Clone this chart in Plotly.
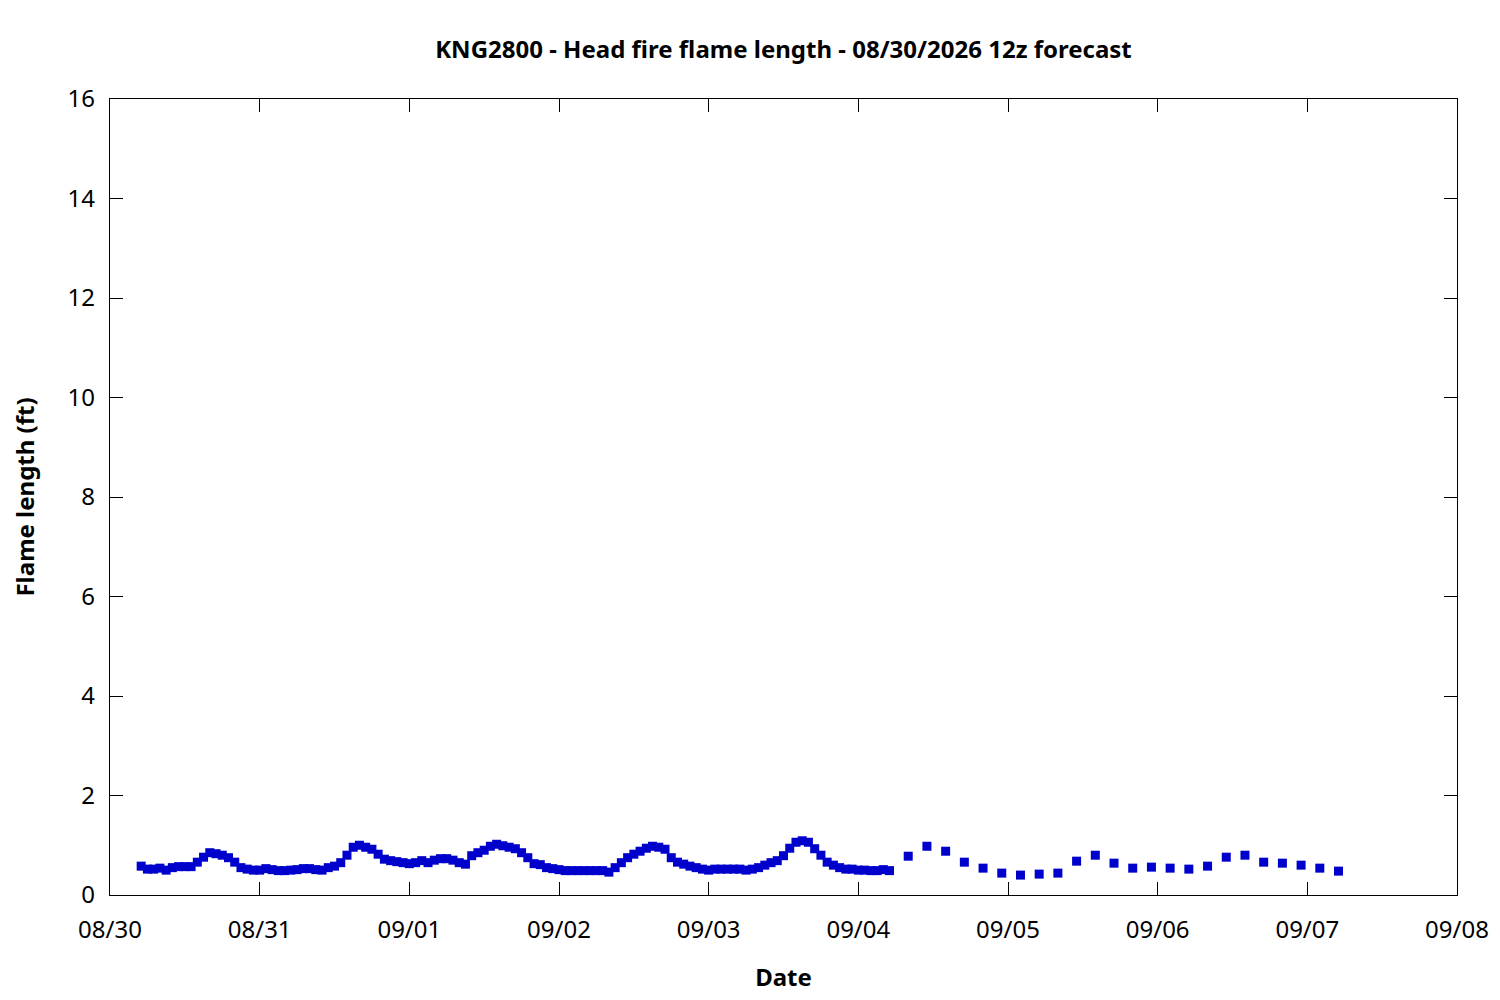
import pandas as pd
import plotly.graph_objects as go

# hourly forecast, 08/30 05:00 through 09/04 05:00
hourly_start = "2026-08-30 05:00"
hourly_ft = [
    0.58, 0.52, 0.52, 0.54, 0.50, 0.55, 0.57, 0.57, 0.57, 0.66,
    0.76, 0.85, 0.83, 0.80, 0.75, 0.66, 0.55, 0.52, 0.50, 0.50,
    0.53, 0.51, 0.49, 0.49, 0.50, 0.51, 0.53, 0.53, 0.51, 0.50,
    0.55, 0.58, 0.65, 0.80, 0.96, 1.00, 0.96, 0.92, 0.82, 0.72,
    0.69, 0.67, 0.65, 0.63, 0.65, 0.69, 0.65, 0.70, 0.73, 0.73,
    0.70, 0.65, 0.62, 0.79, 0.85, 0.90, 0.98, 1.02, 0.99, 0.96,
    0.93, 0.85, 0.75, 0.63, 0.61, 0.55, 0.53, 0.51, 0.49, 0.49,
    0.49, 0.49, 0.49, 0.49, 0.49, 0.46, 0.55, 0.65, 0.75, 0.82,
    0.88, 0.94, 0.98, 0.96, 0.92, 0.75, 0.66, 0.62, 0.58, 0.55,
    0.52, 0.50, 0.52, 0.52, 0.52, 0.52, 0.52, 0.50, 0.52, 0.55,
    0.60, 0.65, 0.69, 0.79, 0.94, 1.06, 1.09, 1.06, 0.93, 0.80,
    0.66, 0.60, 0.55, 0.52, 0.52, 0.50, 0.50, 0.49, 0.49, 0.51,
    0.49,
]

# 3-hourly forecast, 09/04 08:00 through 09/07 05:00
threehr_start = "2026-09-04 08:00"
threehr_ft = [
    0.78, 0.98, 0.88, 0.66, 0.54, 0.44, 0.40, 0.42, 0.44, 0.68,
    0.80, 0.64, 0.54, 0.56, 0.54, 0.52, 0.58, 0.76, 0.80, 0.66,
    0.64, 0.60, 0.54, 0.48,
]

times = list(pd.date_range(hourly_start, periods=len(hourly_ft), freq="1h")) + \
    list(pd.date_range(threehr_start, periods=len(threehr_ft), freq="3h"))
flame = hourly_ft + threehr_ft

FONT = "Noto Sans"
FS = 24

fig = go.Figure()
fig.add_trace(go.Scatter(
    x=times, y=flame,
    mode="markers",
    marker=dict(symbol="square", size=9, color="#0000CC"),
    showlegend=False,
))

axis_common = dict(
    showgrid=False, zeroline=False,
    showline=True, linecolor="black", linewidth=1.3,
    mirror="ticks", ticks="inside", ticklen=13, tickwidth=1, tickcolor="black",
    tickfont=dict(family=FONT, size=FS, color="black"),
)

fig.update_xaxes(
    range=["2026-08-30", "2026-09-08"],
    dtick=86400000, tickformat="%m/%d",
    ticklabelstandoff=13,
    title=dict(text="<b>Date</b>", font=dict(family=FONT, size=FS, color="black"), standoff=25),
    **axis_common,
)
fig.update_yaxes(
    range=[0, 16], dtick=2,
    ticklabelstandoff=9,
    title=dict(text="<b>Flame length (ft)</b>", font=dict(family=FONT, size=FS, color="black"), standoff=32),
    **axis_common,
)

fig.update_layout(
    width=1500, height=1000,
    margin=dict(l=102, r=51, t=91, b=113, autoexpand=False),
    paper_bgcolor="white", plot_bgcolor="white",
    title=dict(
        text="<b>KNG2800 - Head fire flame length - 08/30/2026 12z forecast</b>",
        font=dict(family=FONT, size=FS, color="black"),
        x=0.5, xanchor="center", xref="paper",
        y=0.958, yanchor="middle", yref="container",
    ),
)

fig.write_html("out.html")
